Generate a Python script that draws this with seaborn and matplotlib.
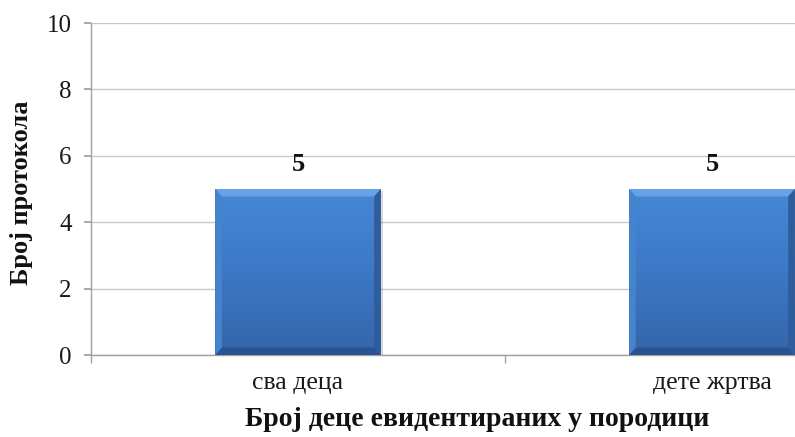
import numpy as np
import pandas as pd
import matplotlib
matplotlib.use("Agg")
import matplotlib.pyplot as plt
import seaborn as sns
from matplotlib.colors import LinearSegmentedColormap
from matplotlib.patches import Rectangle

categories = ["сва деца", "дете жртва"]
values = [5, 5]
y_ticks = [0, 2, 4, 6, 8, 10]
x_title = "Број деце евидентираних у породици"
y_title = "Број протокола"

df = pd.DataFrame({"cat": categories, "val": values})

sns.set_theme(style="white")
plt.rcParams["font.family"] = ["Liberation Serif", "DejaVu Serif"]

fig = plt.figure(figsize=(7.95, 4.37), dpi=100)
# axes span is wider than the canvas so the last category runs off the right edge
ax = fig.add_axes([91 / 795, 1 - 355 / 437, 828 / 795, 332 / 437])

sns.barplot(data=df, x="cat", y="val", ax=ax, width=0.40, color="#3f7fcf",
            saturation=1, zorder=3)

ax.set_ylim(0, 10)
ax.set_xlim(-0.5, len(categories) - 0.5)
ax.set_yticks(y_ticks)
ax.grid(axis="y", color="#c8c8c8", linewidth=1, zorder=0)
ax.set_axisbelow(True)

for s in ["top", "right"]:
    ax.spines[s].set_visible(False)
for s in ["left", "bottom"]:
    ax.spines[s].set_color("#a0a0a0")
    ax.spines[s].set_linewidth(1)

ax.tick_params(axis="y", length=5, color="#a0a0a0", labelsize=18, pad=9,
               left=True, direction="out", labelcolor="#1a1a1a")
ax.tick_params(axis="x", which="major", length=0, labelsize=18.5, pad=12,
               labelcolor="#1a1a1a")
ax.set_xticks(np.arange(-0.5, len(categories) + 0.5, 1), minor=True)
ax.tick_params(axis="x", which="minor", length=6, color="#a0a0a0",
               bottom=True, direction="out")

ax.set_xlabel(x_title, fontsize=20, fontweight="bold", color="#111111")
ax.set_ylabel(y_title, fontsize=19, fontweight="bold", color="#111111")
ax.xaxis.label.set_va("center")
ax.yaxis.label.set_va("center")
ax.xaxis.set_label_coords(0.466, -65 / 332)
ax.yaxis.set_label_coords(-69 / 828, 0.49)

# bevelled gradient fill on each bar
grad = LinearSegmentedColormap.from_list("bar", ["#3465aa", "#3c78c5", "#4688d6"])
for p, v in zip(ax.patches, values):
    x0, y0, w, h = p.get_x(), p.get_y(), p.get_width(), p.get_height()
    p.set_visible(False)
    # soft shadow
    ax.add_patch(Rectangle((x0 + 0.005, y0 - 0.07), w, h, color="#000000",
                           alpha=0.15, zorder=2, linewidth=0))
    img = np.linspace(0, 1, 256).reshape(-1, 1)
    ax.imshow(img, cmap=grad, extent=(x0, x0 + w, y0, y0 + h), origin="lower",
              aspect="auto", zorder=4)
    bx, by = w * 0.04, h * 0.045
    # top bevel (light), bottom bevel (dark), sides
    ax.fill([x0, x0 + w, x0 + w - bx, x0 + bx], [y0 + h, y0 + h, y0 + h - by, y0 + h - by],
            color="#68a2e6", zorder=5, linewidth=0)
    ax.fill([x0, x0 + w, x0 + w - bx, x0 + bx], [y0, y0, y0 + by, y0 + by],
            color="#2a5390", zorder=5, linewidth=0)
    ax.fill([x0, x0 + bx, x0 + bx, x0], [y0, y0 + by, y0 + h - by, y0 + h],
            color="#4583cd", zorder=5, linewidth=0)
    ax.fill([x0 + w, x0 + w - bx, x0 + w - bx, x0 + w], [y0, y0 + by, y0 + h - by, y0 + h],
            color="#2e5c9c", zorder=5, linewidth=0)
    ax.text(x0 + w / 2, v + 0.4, f"{v}", ha="center", va="bottom",
            fontsize=19, fontweight="bold", zorder=6, color="#111111")

ax.set_xlim(-0.5, len(categories) - 0.5)
ax.set_ylim(0, 10)

fig.savefig("out.png", dpi=100)
